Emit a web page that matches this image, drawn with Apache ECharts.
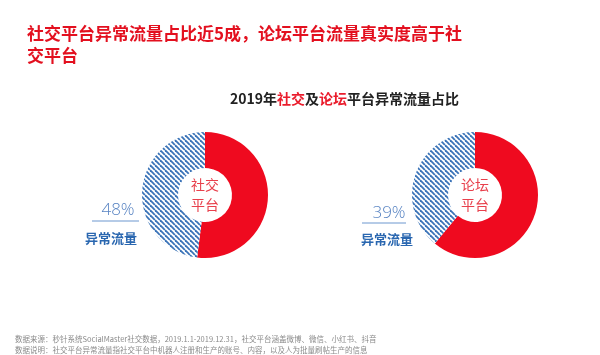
<!DOCTYPE html>
<html><head><meta charset="utf-8">
<script src="https://cdn.jsdelivr.net/npm/echarts@6/dist/echarts.min.js"></script>
<style>html,body{margin:0;padding:0;background:#fff}#c{width:600px;height:355px}</style>
</head><body><div id="c"></div>
<script>
const platforms = ['社交\n平台', '论坛\n平台'];
const abnormalPct = [48, 39];
const normalPct = [52, 61];
const sliceNames = ['正常流量', '异常流量'];
const centers = [['205', '195'], ['475', '195']];
const labelPos = [{pctX: 118, pctY: 210, lineX1: 92, lineX2: 139, lineY: 221, txtX: 111, txtY: 238},
                  {pctX: 389, pctY: 213, lineX1: 362, lineX2: 406, lineY: 223, txtX: 387, txtY: 239}];

const RED = '#ef0a1f';
const BLUE = '#3a73b8';

function stripes() {
  const s = 5;
  const c = document.createElement('canvas');
  c.width = s; c.height = s;
  const g = c.getContext('2d');
  g.fillStyle = '#fff'; g.fillRect(0, 0, s, s);
  g.strokeStyle = BLUE; g.lineWidth = 1.8;
  for (const k of [-s, 0, s]) {
    g.beginPath(); g.moveTo(k, 0); g.lineTo(k + s, s); g.stroke();
  }
  return c;
}
const pat = {image: stripes(), repeat: 'repeat'};

const chart = echarts.init(document.getElementById('c'));
const series = platforms.map((p, i) => ({
  type: 'pie',
  center: centers[i],
  radius: [27, 63],
  startAngle: 90,
  clockwise: true,
  silent: true,
  label: {show: false},
  labelLine: {show: false},
  data: [
    {name: sliceNames[0], value: normalPct[i], itemStyle: {color: RED}},
    {name: sliceNames[1], value: abnormalPct[i], itemStyle: {color: pat}}
  ]
}));

const graphic = [];
platforms.forEach((p, i) => {
  const L = labelPos[i];
  graphic.push({type: 'text', x: parseFloat(centers[i][0]), y: parseFloat(centers[i][1]),
    style: {text: p, font: '14px "Noto Sans CJK SC"', fill: '#e8404c', align: 'center', verticalAlign: 'middle', lineHeight: 20}});
  graphic.push({type: 'text', x: L.pctX, y: L.pctY,
    style: {text: abnormalPct[i] + '%', font: '300 17px "Open Sans"', fill: '#5783c2', align: 'center', verticalAlign: 'middle'}});
  graphic.push({type: 'line', shape: {x1: L.lineX1, y1: L.lineY, x2: L.lineX2, y2: L.lineY},
    style: {stroke: '#6d97cf', lineWidth: 1}});
  graphic.push({type: 'text', x: L.txtX, y: L.txtY,
    style: {text: '异常流量', font: 'bold 13px "Noto Sans CJK SC"', fill: '#2a67b0', align: 'center', verticalAlign: 'middle'}});
});

chart.setOption({
  backgroundColor: '#fff',
  title: [
    {text: '社交平台异常流量占比近5成，论坛平台流量真实度高于社\n交平台', left: 22, top: 18,
     textStyle: {color: '#e3101f', fontSize: 17, fontWeight: 'bold', fontFamily: 'Noto Sans CJK SC', lineHeight: 22}},
    {text: '{b|2019年}{r|社交}{b|及}{r|论坛}{b|平台异常流量占比}', top: 87, left: 225,
     textStyle: {rich: {
       b: {color: '#222', fontSize: 14, fontWeight: 'bold', fontFamily: 'Noto Sans CJK SC'},
       r: {color: '#ea1c2c', fontSize: 14, fontWeight: 'bold', fontFamily: 'Noto Sans CJK SC'}}}},
    {text: '数据来源：秒针系统SocialMaster社交数据，2019.1.1-2019.12.31，社交平台涵盖微博、微信、小红书、抖音\n数据说明：社交平台异常流量指社交平台中机器人注册和生产的账号、内容，以及人为批量刷帖生产的信息',
     left: 10, top: 329,
     textStyle: {color: '#8a8a8a', fontSize: 7.5, fontWeight: 'normal', fontFamily: 'Noto Sans CJK SC', lineHeight: 11}}
  ],
  series: series,
  graphic: graphic
});
</script></body></html>
